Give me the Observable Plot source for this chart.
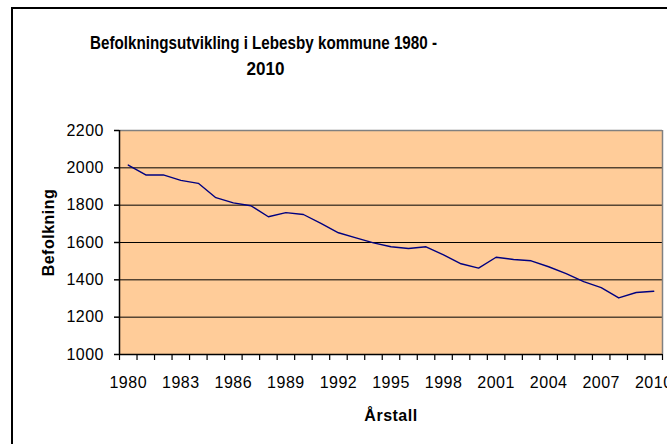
<!DOCTYPE html>
<html>
<head>
<meta charset="utf-8">
<script src="https://cdn.jsdelivr.net/npm/d3@7"></script>
<script src="https://cdn.jsdelivr.net/npm/@observablehq/plot@0.6"></script>
<style>
  body { margin: 0; background: #fff; }
  #wrap { position: relative; width: 667px; height: 444px; overflow: hidden; background: #fff; }
  #border { position: absolute; left: 11px; top: 7px; width: 800px; height: 600px;
            border-left: 2px solid #000; border-top: 2px solid #000; pointer-events: none; }
  #chart { position: absolute; left: 0; top: 0; }
  .ttl text { letter-spacing: 0px; }
</style>
</head>
<body>
<div id="wrap">
  <div id="chart"></div>
  <div id="border"></div>
</div>
<script>
const years = [1980, 1981, 1982, 1983, 1984, 1985, 1986, 1987, 1988, 1989,
               1990, 1991, 1992, 1993, 1994, 1995, 1996, 1997, 1998, 1999,
               2000, 2001, 2002, 2003, 2004, 2005, 2006, 2007, 2008, 2009, 2010];
const population = [2015, 1962, 1962, 1933, 1917, 1840, 1812, 1797, 1738, 1760,
                    1750, 1702, 1652, 1625, 1598, 1577, 1568, 1577, 1534, 1486,
                    1463, 1521, 1509, 1502, 1470, 1433, 1390, 1358, 1303, 1332, 1339];
const yTicks = [1000, 1200, 1400, 1600, 1800, 2000, 2200];
const xTickLabels = [1980, 1983, 1986, 1989, 1992, 1995, 1998, 2001, 2004, 2007, 2010];
const titleLines = ["Befolkningsutvikling i Lebesby kommune 1980 -", "2010"];
const yLabel = "Befolkning";
const xLabel = "Årstall";

const data = years.map((year, i) => ({year, pop: population[i]}));
const boundaries = years.map(y => y - 0.5).concat([years[years.length - 1] + 0.5]);
const xDomain = [boundaries[0], boundaries[boundaries.length - 1]];
const yDomain = [yTicks[0], yTicks[yTicks.length - 1]];

const font = '"Liberation Sans", Arial, sans-serif';

const chart = Plot.plot({
  width: 667,
  height: 444,
  marginLeft: 119,
  marginRight: 5,
  marginTop: 130,
  marginBottom: 90,
  x: {domain: xDomain},
  y: {domain: yDomain},
  style: {fontFamily: font, fontSize: "16px", color: "#000", background: "transparent", letterSpacing: "0.5px", overflow: "hidden"},
  marks: [
    Plot.frame({fill: "#FFCC99", stroke: null}),
    Plot.ruleY(yTicks.slice(1, -1), {stroke: "#000", strokeWidth: 1, strokeOpacity: 1}),
    Plot.ruleY([yDomain[1]], {stroke: "#808080", strokeWidth: 1.5}),
    Plot.ruleX([xDomain[1]], {stroke: "#808080", strokeWidth: 1.5}),
    Plot.line(data, {x: "year", y: "pop", stroke: "#000080", strokeWidth: 1.4}),
    Plot.ruleX([xDomain[0]], {stroke: "#000", strokeWidth: 1.5}),
    Plot.ruleY([yDomain[0]], {stroke: "#000", strokeWidth: 1.5}),
    Plot.axisY({ticks: yTicks, tickSize: 5, tickPadding: 10.5, label: null, tickFormat: d => String(d), stroke: "#000", strokeWidth: 1.5}),
    Plot.axisX({ticks: boundaries, tickSize: 6, tickFormat: () => "", label: null, stroke: "#000", strokeWidth: 1.2}),
    Plot.axisX({ticks: xTickLabels, tickSize: 0, tickPadding: 22, tickFormat: d => String(d), label: null}),
    Plot.text([titleLines[0]], {frameAnchor: "top-left", dx: 144, dy: -82, lineAnchor: "bottom", textAnchor: "middle", fontWeight: "bold", fontSize: 18, className: "ttl t1"}),
    Plot.text([titleLines[1]], {frameAnchor: "top-left", dx: 146, dy: -56, lineAnchor: "bottom", textAnchor: "middle", fontWeight: "bold", fontSize: 18, className: "ttl t2"}),
    Plot.text([yLabel], {frameAnchor: "left", rotate: -90, dx: -66, dy: -10, lineAnchor: "bottom", textAnchor: "middle", fontWeight: "bold", fontSize: 16}),
    Plot.text([xLabel], {frameAnchor: "bottom", dy: 66.5, lineAnchor: "bottom", textAnchor: "middle", fontWeight: "bold", fontSize: 16})
  ]
});
// condense the bold title glyphs to the reference's narrower width
d3.select(chart).selectAll("g.t1 text").attr("textLength", 347).attr("lengthAdjust", "spacingAndGlyphs");
d3.select(chart).selectAll("g.t2 text").attr("textLength", 38).attr("lengthAdjust", "spacingAndGlyphs");
document.getElementById("chart").appendChild(chart);
</script>
</body>
</html>
